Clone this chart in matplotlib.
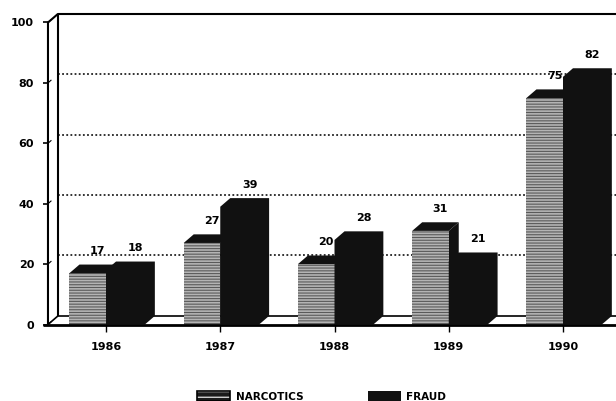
import matplotlib
matplotlib.use('Agg')
import matplotlib.pyplot as plt
from matplotlib.patches import Polygon, Rectangle

years = ['1986', '1987', '1988', '1989', '1990']
narcotics = [17, 27, 20, 31, 75]
fraud = [18, 39, 28, 21, 82]
yticks = [0, 20, 40, 60, 80, 100]

plt.rcParams['hatch.linewidth'] = 0.8

fig = plt.figure(figsize=(6.16, 4.02), dpi=100)
ax = fig.add_axes([0, 0, 1, 1])
ax.set_xlim(-0.928, 4.464)
ax.set_ylim(-25.33, 107.78)
ax.axis('off')

dx, dy = 0.0875, 2.85          # depth offset of the back wall
x0 = -0.508                    # front y axis
xr = 4.464
font = dict(family='DejaVu Sans', weight='bold', size=8)
k = dict(color='black', solid_capstyle='butt')

# back wall grid and frame
for v in yticks[1:-1]:
    ax.plot([x0 + dx, xr], [v + dy, v + dy], color='#222222', lw=1.3, ls=(0, (1, 1.3)), zorder=1)
ax.plot([x0 + dx, x0 + dx, xr], [dy, 100 + dy, 100 + dy], lw=1.5, zorder=1, **k)
ax.plot([x0, x0, x0 + dx], [0, 100, 100 + dy], lw=1.5, zorder=5, **k)
for v in yticks:
    ax.plot([x0 - 0.045, x0], [v, v], lw=1.2, zorder=5, **k)
    ax.plot([x0, x0 + 0.03], [v, v + 1.0], lw=0.8, zorder=5, **k)
    ax.text(-0.63, v, str(v), ha='right', va='center', **font)

# floor
ax.add_patch(Polygon([(x0, 0), (xr, 0), (xr, dy), (x0 + dx, dy)], closed=True,
                     fc='white', ec='none', zorder=2))
ax.plot([x0 + dx, xr], [dy, dy], lw=1.2, zorder=2, **k)
ax.plot([x0, x0 + dx], [0, dy], lw=1.2, zorder=2, **k)

# bars: narcotics (textured front, black top/side), fraud (solid black block)
wn, wf = 0.32, 0.34
for i, (n, f) in enumerate(zip(narcotics, fraud)):
    a, b = i - wn, i
    ax.add_patch(Polygon([(b, 0), (b + dx, dy), (b + dx, n + dy), (b, n)], fc='#111111', ec='none', zorder=3))
    ax.add_patch(Rectangle((a, 0), wn, n, fc='#b4b4b4', ec='#5a5a5a', lw=0, hatch='------', zorder=3))
    ax.add_patch(Polygon([(a, n), (b, n), (b + dx, n + dy), (a + dx, n + dy)], fc='#111111', ec='none', zorder=3))
    c, d = i, i + wf
    ax.add_patch(Polygon([(c, 0), (d, 0), (d + dx, dy), (d + dx, f + dy), (c + dx, f + dy), (c, f)],
                         fc='#111111', ec='none', zorder=4))
    ax.text(a + wn / 2 + dx, n + dy + 4.8, str(n), ha='center', va='center', zorder=6, **font)
    ax.text(c + wf / 2 + dx, f + dy + 4.8, str(f), ha='center', va='center', zorder=6, **font)
    ax.plot([i, i], [0, -2.5], lw=1.0, zorder=5, **k)
    ax.text(i, -7.1, years[i], ha='center', va='center', **font)

ax.plot([x0 - 0.045, xr], [0, 0], lw=2.0, zorder=5, **k)

# legend along the bottom edge
W, H = 616, 402
ax.add_patch(Rectangle((197 / W, 1 - 402 / H), 33 / W, 10 / H, transform=ax.transAxes,
                       fc='#1a1a1a', ec='white', lw=0, hatch='---', clip_on=False))
ax.add_patch(Rectangle((197 / W, 1 - 402 / H), 33 / W, 10 / H, transform=ax.transAxes,
                       fc='none', ec='black', lw=1.2, clip_on=False))
ax.text(236 / W, 1 - 397 / H, 'NARCOTICS', transform=ax.transAxes, ha='left', va='center',
        family='DejaVu Sans', weight='bold', size=7.5)
ax.add_patch(Rectangle((368 / W, 1 - 402 / H), 33 / W, 10 / H, transform=ax.transAxes,
                       fc='#111111', ec='none', clip_on=False))
ax.text(406 / W, 1 - 397 / H, 'FRAUD', transform=ax.transAxes, ha='left', va='center',
        family='DejaVu Sans', weight='bold', size=7.5)

fig.savefig('out.png', dpi=100)
